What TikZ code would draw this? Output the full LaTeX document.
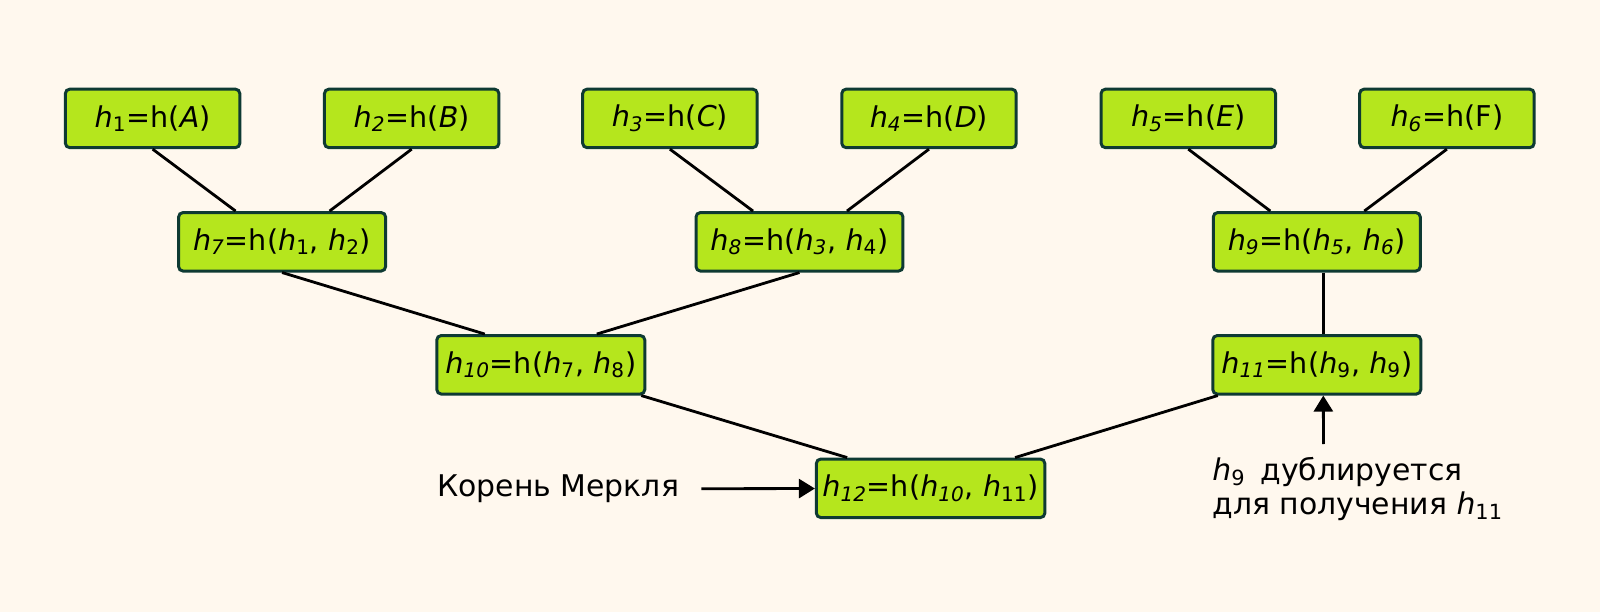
\documentclass[tikz,border=0pt]{standalone}
\usepackage{fontspec}
\setmainfont{DejaVu Sans}
\usetikzlibrary{arrows.meta}
\definecolor{paper}{HTML}{FFF8EE}
\definecolor{hashgreen}{HTML}{B5E61D}
\definecolor{hashedge}{HTML}{0E3A33}
\newcommand{\hu}[1]{\textit{h}\textsubscript{#1}}
\newcommand{\hi}[1]{\textit{h}\textsubscript{\textit{#1}}}

\begin{document}
\begin{tikzpicture}[x=0.02cm, y=-0.02cm,
   hashbox/.style={draw=hashedge, fill=hashgreen, line width=1.7pt, rounded corners=2.5pt,
      minimum height=1.17cm, inner sep=0pt, font=\fontsize{16.3}{20}\selectfont},
   link/.style={line width=1.6pt},
   pointer/.style={line width=1.6pt, -{Triangle[length=0.32cm, width=0.38cm]}},
   note/.style={font=\fontsize{17}{19.6}\selectfont}]
   \fill[paper] (0,0) rectangle (1600,612);

   \node[hashbox, minimum width=3.49cm] (h1) at (152.6,118.4) {\hu{1}=h(\textit{A})};
   \node[hashbox, minimum width=3.49cm] (h2) at (411.7,118.4) {\hi{2}=h(\textit{B})};
   \node[hashbox, minimum width=3.49cm] (h3) at (669.9,118.4) {\hi{3}=h(\textit{C})};
   \node[hashbox, minimum width=3.49cm] (h4) at (929.0,118.4) {\hi{4}=h(\textit{D})};
   \node[hashbox, minimum width=3.49cm] (h5) at (1188.3,118.4) {\hi{5}=h(\textit{E})};
   \node[hashbox, minimum width=3.49cm] (h6) at (1446.9,118.4) {\hi{6}=h(F)};

   \node[hashbox, minimum width=4.14cm] (h7) at (282.1,241.8) {\hi{7}=h(\hu{1}, \hu{2})};
   \node[hashbox, minimum width=4.14cm] (h8) at (799.5,241.8) {\hi{8}=h(\hi{3}, \hu{4})};
   \node[hashbox, minimum width=4.14cm] (h9) at (1316.8,241.8) {\hi{9}=h(\hi{5}, \hi{6})};

   \node[hashbox, minimum width=4.16cm] (h10) at (540.8,364.8) {\hi{10}=h(\hu{7}, \hu{8})};
   \node[hashbox, minimum width=4.16cm] (h11) at (1316.8,364.8) {\hi{11}=h(\hu{9}, \hu{9})};

   \node[hashbox, minimum width=4.57cm] (h12) at (930.6,488.3) {\hi{12}=h(\hi{10}, \hu{11})};

   \foreach \a/\b/\c in {h1/h2/h7, h3/h4/h8, h5/h6/h9} {
      \draw[link] (\a.south) -- ([xshift=-0.93cm]\c.north);
      \draw[link] (\b.south) -- ([xshift=0.95cm]\c.north);
   }
   \draw[link] (h7.south) -- ([xshift=-1.12cm]h10.north);
   \draw[link] (h8.south) -- ([xshift=1.12cm]h10.north);
   \draw[link] ([xshift=0.13cm]h9.south) -- ([xshift=0.13cm]h11.north);
   \draw[link] ([xshift=-0.1cm]h10.south east) -- ([xshift=-1.67cm]h12.north);
   \draw[link] ([xshift=0.13cm]h11.south west) -- ([xshift=1.69cm]h12.north);

   \node[note, anchor=west, inner sep=0pt] (rootlabel) at (437,489) {Корень Меркля};
   \draw[pointer, shorten <=0.44cm] (rootlabel) -- (h12);

   \node[note, anchor=north west, inner sep=0pt, align=left] (dupnote) at (1212,457)
      {\hu{9}\hspace{0.5em}дублируется\\для получения \hu{11}};
   \coordinate (dupfoot) at (1323.5,444);
   \draw[pointer] (dupfoot) -- ([xshift=0.13cm]h11.south);

\end{tikzpicture}
\end{document}
